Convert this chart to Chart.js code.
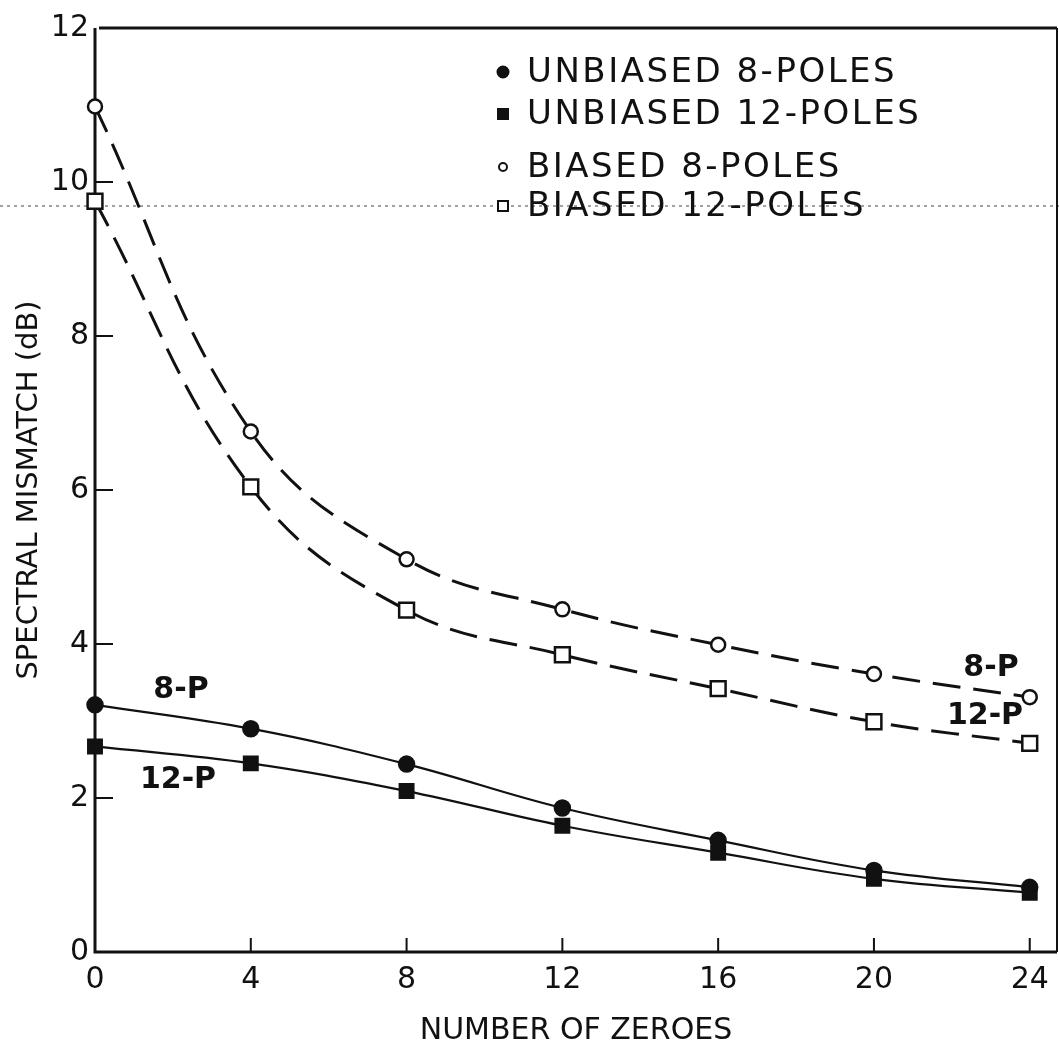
<!DOCTYPE html>
<html>
<head>
<meta charset="utf-8">
<title>Spectral mismatch vs number of zeroes</title>
<script src="https://cdn.jsdelivr.net/npm/chart.js@4/dist/chart.umd.min.js"></script>
<style>
  html, body { margin: 0; padding: 0; background: #fff; }
  #wrap { width: 1059px; height: 1057px; position: relative; }
</style>
</head>
<body>
<div id="wrap"><canvas id="chart"></canvas></div>
<script>
  /* ── data ── */
  const zeroes       = [0, 4, 8, 12, 16, 20, 24];
  const unbiased8    = [3.21, 2.90, 2.44, 1.87, 1.45, 1.06, 0.84];
  const unbiased12   = [2.67, 2.45, 2.09, 1.64, 1.29, 0.95, 0.77];
  const biased8      = [10.98, 6.76, 5.10, 4.45, 3.99, 3.61, 3.31];
  const biased12     = [9.75, 6.04, 4.44, 3.86, 3.42, 2.99, 2.71];
  const xTicks       = [0, 4, 8, 12, 16, 20, 24];
  const yTicks       = [0, 2, 4, 6, 8, 10, 12];
  const seriesLabels = ["UNBIASED 8-POLES", "UNBIASED 12-POLES", "BIASED 8-POLES", "BIASED 12-POLES"];

  const INK  = "#111";
  const FONT = "'DejaVu Sans', 'Liberation Sans', sans-serif";

  const pts = (vals) => zeroes.map((x, i) => ({ x, y: vals[i] }));

  function series(label, vals, style, filled, radius, dashed) {
    return {
      label,
      data: pts(vals),
      showLine: true,
      clip: false,
      borderColor: INK,
      borderWidth: dashed ? 3 : 2.2,
      borderDash: dashed ? [28, 13] : [],
      tension: 0.4,
      pointStyle: style,
      pointRadius: radius,
      pointBorderWidth: 2.5,
      pointBorderColor: INK,
      pointBackgroundColor: filled ? INK : "#fff",
    };
  }

  /* ── frame, inward ticks, legend and curve labels ── */
  const decorations = {
    id: "decorations",
    beforeDatasetsDraw(chart) {
      const { ctx, chartArea: a, scales: { x, y } } = chart;
      ctx.save();

      // scan artefact: faint dotted line across the page
      ctx.strokeStyle = "#444";
      ctx.lineWidth = 1;
      ctx.setLineDash([3, 4]);
      ctx.beginPath();
      ctx.moveTo(0, 206);
      ctx.lineTo(chart.width, 206);
      ctx.stroke();
      ctx.setLineDash([]);

      // box
      ctx.strokeStyle = INK;
      ctx.lineWidth = 3;
      ctx.beginPath();
      ctx.moveTo(a.left + 4, a.top);
      ctx.lineTo(a.right, a.top);
      ctx.moveTo(a.left, a.top);
      ctx.lineTo(a.left, a.bottom);
      ctx.lineTo(a.right, a.bottom);
      ctx.stroke();
      ctx.lineWidth = 2;
      ctx.beginPath();
      ctx.moveTo(a.right, a.top);
      ctx.lineTo(a.right, a.bottom);
      ctx.stroke();

      // inward ticks
      ctx.lineWidth = 2;
      ctx.beginPath();
      yTicks.forEach((v) => {
        if (v === 0 || v === 12) return;
        const py = y.getPixelForValue(v);
        ctx.moveTo(a.left, py);
        ctx.lineTo(a.left + 18, py);
      });
      xTicks.forEach((v) => {
        if (v === 0) return;
        const px = x.getPixelForValue(v);
        ctx.moveTo(px, a.bottom);
        ctx.lineTo(px, a.bottom - 14);
      });
      ctx.stroke();
      ctx.restore();
    },
    afterDraw(chart) {
      const { ctx } = chart;
      ctx.save();

      // legend
      const rows = [72, 114, 167, 206];
      ctx.fillStyle = INK;
      ctx.strokeStyle = INK;
      ctx.font = `34px ${FONT}`;
      ctx.letterSpacing = "2.5px";
      ctx.textBaseline = "middle";
      ctx.textAlign = "left";
      chart.data.datasets.forEach((ds, i) => {
        const cy = rows[i];
        const cx = 503;
        ctx.lineWidth = 2;
        ctx.beginPath();
        if (ds.pointStyle === "circle") {
          ctx.arc(cx, cy, i === 0 ? 5.5 : 4, 0, Math.PI * 2);
        } else {
          ctx.rect(cx - 5, cy - 5, 10, 10);
        }
        if (ds.pointBackgroundColor === INK) ctx.fill();
        else { ctx.fillStyle = "#fff"; ctx.fill(); ctx.fillStyle = INK; }
        ctx.stroke();
        ctx.fillText(ds.label, 527, cy + 1);
      });
      ctx.letterSpacing = "0px";

      // curve labels
      ctx.font = `bold 30px ${FONT}`;
      ctx.textAlign = "center";
      ctx.fillText("8-P",  181, 690);
      ctx.fillText("12-P", 178, 780);
      ctx.fillText("8-P",  991, 668);
      ctx.fillText("12-P", 985, 716);

      ctx.restore();
    },
  };

  new Chart(document.getElementById("chart"), {
    type: "scatter",
    data: {
      datasets: [
        series(seriesLabels[0], unbiased8,  "circle", true,  7.5, false),
        series(seriesLabels[1], unbiased12, "rect",   true,  9.5, false),
        series(seriesLabels[2], biased8,    "circle", false, 7,   true),
        series(seriesLabels[3], biased12,   "rect",   false, 10.5, true),
      ],
    },
    options: {
      responsive: true,
      maintainAspectRatio: false,
      animation: false,
      layout: { autoPadding: false, padding: { top: 28, right: 2, left: 0, bottom: 0 } },
      plugins: { legend: { display: false }, tooltip: { enabled: false } },
      scales: {
        x: {
          type: "linear",
          min: 0,
          max: 24.7,
          afterFit: (s) => { s.height = 105; s.paddingLeft = 0; s.paddingRight = 0; },
          afterBuildTicks: (s) => { s.ticks = xTicks.map((v) => ({ value: v })); },
          grid: { display: false, drawTicks: false },
          border: { display: false },
          ticks: { color: INK, padding: 10, font: { family: FONT, size: 30 } },
          title: {
            display: true,
            text: "NUMBER OF ZEROES",
            color: INK,
            padding: { top: 0, bottom: 8 },
            font: { family: FONT, size: 30 },
          },
        },
        y: {
          min: 0,
          max: 12,
          afterFit: (s) => { s.width = 95; s.paddingTop = 0; s.paddingBottom = 0; },
          afterBuildTicks: (s) => { s.ticks = yTicks.map((v) => ({ value: v })); },
          grid: { display: false, drawTicks: false },
          border: { display: false },
          ticks: { color: INK, padding: 6, font: { family: FONT, size: 30 } },
          title: {
            display: true,
            text: "SPECTRAL MISMATCH (dB)",
            color: INK,
            padding: { top: 12, bottom: 0 },
            font: { family: FONT, size: 29 },
          },
        },
      },
    },
    plugins: [decorations],
  });
</script>
</body>
</html>
